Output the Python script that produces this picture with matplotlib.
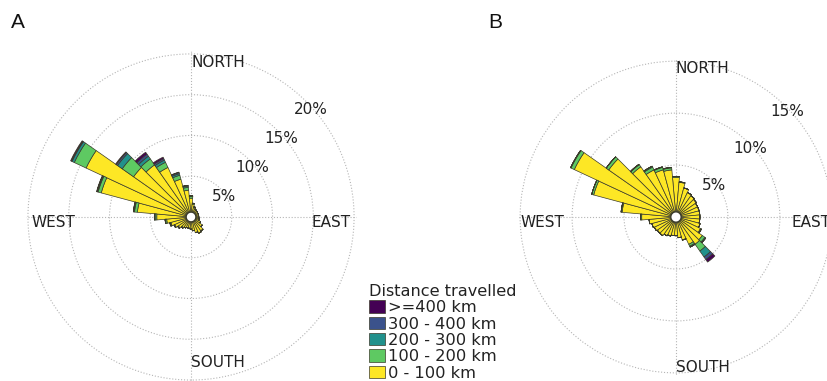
import numpy as np
import matplotlib
matplotlib.use("Agg")
import matplotlib.pyplot as plt

# compass directions of the sectors (deg, clockwise from north)
directions = [0, 10, 20, 30, 40, 50, 60, 70, 80, 90, 100, 110,
              120, 130, 140, 150, 160, 170, 180, 190, 200, 210, 220, 230,
              240, 250, 260, 270, 280, 290, 300, 310, 320, 330, 340, 350]

band_labels = ["0 - 100 km", "100 - 200 km", "200 - 300 km", "300 - 400 km", ">=400 km"]
band_colors = ["#fde725", "#5ec962", "#21918c", "#3b528b", "#440154"]

# panel A, frequency (%) per sector and distance band
a_0_100 = [2.3, 1.55, 1.25, 1.1, 1.0, 1.0, 0.95, 0.95, 0.95, 0.95, 1.0, 1.05,
           1.3, 1.7, 2.1, 2.2, 2.0, 1.7, 1.5, 1.4, 1.4, 1.5, 1.6, 1.9,
           2.2, 2.55, 3.0, 4.2, 6.6, 11.4, 14.2, 8.6, 7.8, 6.7, 4.8, 3.3]
a_100_200 = [0.2, 0.15, 0.05, 0, 0, 0, 0, 0, 0, 0, 0, 0,
             0, 0, 0, 0, 0, 0, 0, 0, 0, 0, 0.1, 0.1,
             0.1, 0.1, 0.15, 0.2, 0.35, 0.4, 1.6, 1.7, 0.9, 0.7, 0.5, 0.35]
a_200_300 = [0.1, 0, 0, 0, 0, 0, 0, 0, 0, 0, 0, 0,
             0, 0, 0, 0, 0, 0, 0, 0, 0, 0, 0, 0,
             0, 0.05, 0.05, 0.1, 0.1, 0.1, 0.3, 0.7, 0.4, 0.3, 0.2, 0.15]
a_300_400 = [0, 0, 0, 0, 0, 0, 0, 0, 0, 0, 0, 0,
             0, 0, 0, 0, 0, 0, 0, 0, 0, 0, 0, 0,
             0, 0, 0, 0, 0.05, 0.05, 0.1, 0.2, 0.3, 0.2, 0.15, 0.1]
a_400 = [0, 0, 0, 0, 0, 0, 0, 0, 0, 0, 0, 0,
         0, 0, 0, 0, 0, 0, 0, 0, 0, 0, 0, 0,
         0, 0, 0, 0, 0, 0.05, 0.1, 0.1, 0.3, 0.2, 0.05, 0]

# panel B
b_0_100 = [3.8, 3.35, 2.9, 2.6, 2.5, 2.4, 2.3, 2.3, 2.3, 2.3, 2.3, 2.4,
           2.6, 3.1, 3.2, 2.9, 2.3, 2.0, 1.8, 1.8, 1.9, 2.0, 2.2, 2.2,
           2.3, 2.4, 2.6, 3.3, 5.2, 8.2, 10.8, 7.9, 5.9, 5.0, 4.7, 4.55]
b_100_200 = [0.1, 0.05, 0, 0, 0, 0, 0, 0, 0, 0, 0, 0,
             0.1, 0.3, 0.8, 0.2, 0, 0, 0, 0, 0, 0, 0, 0,
             0, 0, 0, 0.1, 0.1, 0.2, 0.35, 0.3, 0.25, 0.3, 0.25, 0.2]
b_200_300 = [0, 0, 0, 0, 0, 0, 0, 0, 0, 0, 0, 0,
             0, 0.1, 0.7, 0.1, 0, 0, 0, 0, 0, 0, 0, 0,
             0, 0, 0, 0, 0, 0, 0.05, 0, 0.05, 0.1, 0.05, 0.05]
b_300_400 = [0, 0, 0, 0, 0, 0, 0, 0, 0, 0, 0, 0,
             0, 0, 0.3, 0, 0, 0, 0, 0, 0, 0, 0, 0,
             0, 0, 0, 0, 0, 0, 0, 0, 0, 0, 0, 0]
b_400 = [0, 0, 0, 0, 0, 0, 0, 0, 0, 0, 0, 0,
         0, 0, 0.3, 0, 0, 0, 0, 0, 0, 0, 0, 0,
         0, 0, 0, 0, 0, 0, 0, 0, 0, 0, 0, 0]

a_bands = [a_0_100, a_100_200, a_200_300, a_300_400, a_400]
b_bands = [b_0_100, b_100_200, b_200_300, b_300_400, b_400]

fig = plt.figure(figsize=(8.28, 3.81), dpi=100)
txt = "#222222"


def rose(rect, bands, rmax, rticks, hole, rlab_off, cardinal):
    ax = fig.add_axes(rect, projection="polar")
    ax.set_theta_zero_location("N")
    ax.set_theta_direction(-1)
    theta = np.deg2rad(directions)
    width = np.deg2rad(10)
    bottom = np.zeros(len(directions))
    bars = []
    for vals, col, lab in zip(bands, band_colors, band_labels):
        vals = np.array(vals)
        b = ax.bar(theta, vals, width=width, bottom=bottom, color=col,
                   edgecolor="#3a3a2a", linewidth=0.5, label=lab, zorder=3)
        bottom = bottom + vals
        bars.append(b)
    # calm circle in the middle
    t = np.linspace(0, 2 * np.pi, 100)
    ax.fill(t, np.full(100, hole), facecolor="white", edgecolor="#3a3a2a",
            linewidth=1.0, zorder=5)
    ax.set_ylim(0, rmax)
    ax.set_thetagrids([0, 90, 180, 270], labels=[""] * 4)
    ax.set_rgrids(rticks, labels=[""] * len(rticks))
    ax.grid(color="#b5b5b5", linestyle=":", linewidth=0.8)
    ax.spines["polar"].set_visible(False)
    for r in rticks:
        ax.annotate(f"{r}%", xy=(np.deg2rad(45), r), xytext=rlab_off,
                    textcoords="offset pixels", ha="center", va="center",
                    fontsize=11, color=txt, zorder=6)
    for name, (dx, dy, ha) in cardinal.items():
        ax.annotate(name, xy=(0, 0), xytext=(dx, dy), textcoords="offset pixels",
                    ha=ha, va="center", fontsize=11, color=txt,
                    annotation_clip=False, zorder=6)
    return ax, bars


ax_a, bars_a = rose([0.0308, -0.0039, 0.3998, 0.8688], a_bands, 20.3,
                    [5, 10, 15, 20], 0.6, (4, -8),
                    {"NORTH": (0, 154, "left"), "SOUTH": (0, -146, "left"),
                     "WEST": (-138, -6, "center"), "EAST": (140, -6, "center")})
ax_b, bars_b = rose([0.6244, 0.0131, 0.3840, 0.8346], b_bands, 15.3,
                    [5, 10, 15], 0.5, (1, -5),
                    {"NORTH": (0, 149, "left"), "SOUTH": (0, -150, "left"),
                     "WEST": (-134, -5, "center"), "EAST": (135, -5, "center")})

fig.text(18 / 828, 1 - 22 / 381, "A", fontsize=15, ha="center", va="center",
         family="Liberation Sans", color="#111111")
fig.text(495 / 828, 1 - 22 / 381, "B", fontsize=15, ha="center", va="center",
         family="Liberation Sans", color="#111111")

leg = fig.legend(bars_a[::-1], band_labels[::-1], title="Distance travelled",
                 loc="upper left", bbox_to_anchor=(369 / 828, 1 - 284 / 381),
                 frameon=False, fontsize=11.7, title_fontsize=11.6,
                 labelspacing=0.08, handlelength=1.0, handleheight=0.8,
                 handletextpad=0.2, borderpad=0, borderaxespad=0,
                 alignment="left")
for t in leg.get_texts():
    t.set_color(txt)
leg.get_title().set_color(txt)

fig.savefig("out.png", dpi=100)
